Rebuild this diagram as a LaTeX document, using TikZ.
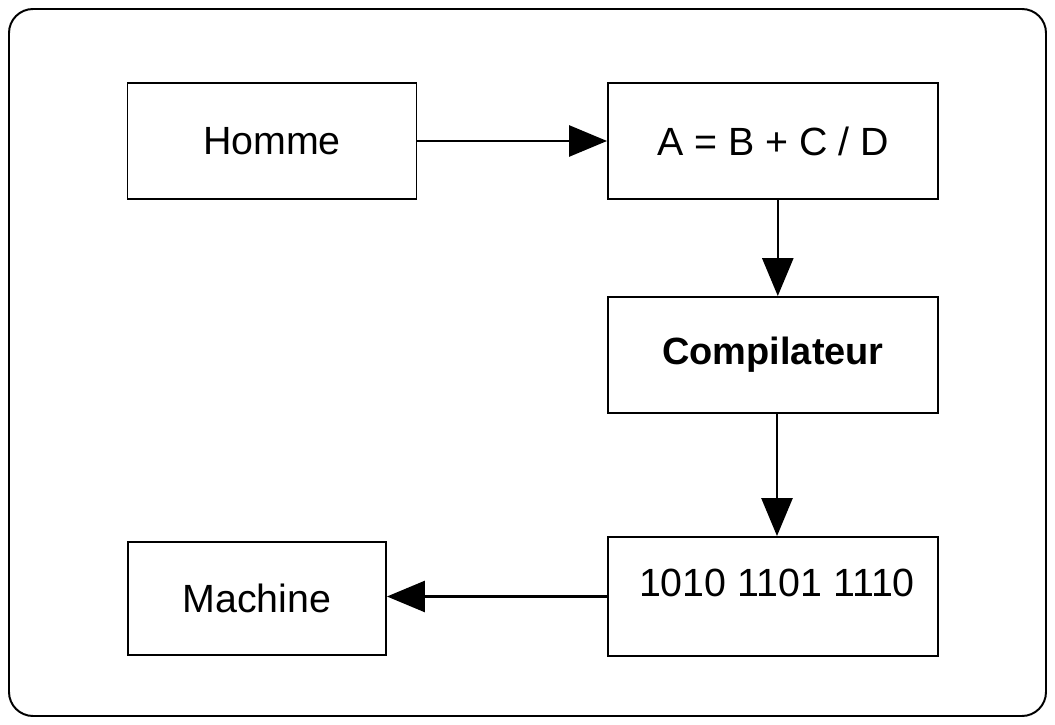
\documentclass[tikz,border=0pt]{standalone}
\usepackage{fontspec}
\setmainfont{Liberation Sans}
\usetikzlibrary{arrows.meta,positioning}

\begin{document}
\begin{tikzpicture}[scale=1,
		box/.style={draw,line width=1.4pt,inner sep=0pt,font=\fontsize{28}{33}\selectfont},
		flow/.style={line width=1.5pt,-{Triangle[length=0.95cm,width=0.78cm]}}]
		\useasboundingbox (0,0) rectangle (26.375,18.125);
		\draw[line width=1.4pt,rounded corners=0.6cm] (0.225,0.225) rectangle (26.15,17.9);
		\node[box,minimum width=7.225cm,minimum height=2.9cm] (homme) at (6.8,14.6) {Homme};
		\node[box,minimum width=8.25cm,minimum height=2.9cm] (expr) at (19.325,14.6) {A = B + C / D};
		\node[box,minimum width=8.25cm,minimum height=2.9cm] (comp) at (19.325,9.25) {\fontsize{27}{32}\selectfont\bfseries Compilateur};
		\node[box,minimum width=8.25cm,minimum height=2.975cm,text depth=0.68cm] (code) at (19.325,3.2125) {\hspace{0.2cm}1010 1101 1110};
		\node[box,minimum width=6.45cm,minimum height=2.825cm] (machine) at (6.425,3.1625) {Machine};
		\draw[flow] (homme) -- (expr);
		\draw[flow] ([xshift=0.12cm]expr.south) -- ([xshift=0.12cm]comp.north);
		\draw[flow] ([xshift=0.1cm]comp.south) -- ([xshift=0.1cm]code.north);
		\draw[flow] (code.west) -- (code.west -| machine.east);
		\end{tikzpicture}
\end{document}
